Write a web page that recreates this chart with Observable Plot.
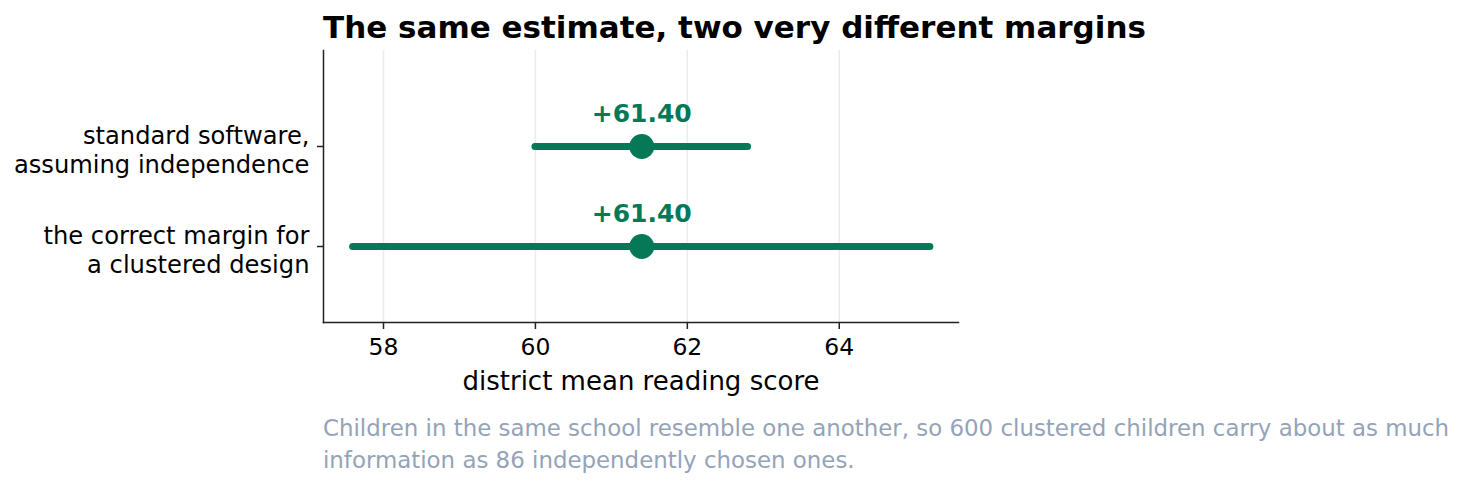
<!DOCTYPE html>
<html><head><meta charset="utf-8">
<script src="https://cdn.jsdelivr.net/npm/d3@7"></script>
<script src="https://cdn.jsdelivr.net/npm/@observablehq/plot@0.6"></script>
<style>
body{margin:0;background:#fff;font-family:"DejaVu Sans",sans-serif;}
#wrap{position:relative;width:1466px;height:495px;overflow:hidden;}
#title{position:absolute;left:323px;top:12.1px;font-size:31px;line-height:31px;font-weight:bold;color:#000;white-space:nowrap;}
#chart{position:absolute;left:0;top:40px;}
#caption{position:absolute;left:323px;top:411.5px;font-size:22.9px;line-height:32.6px;color:#94a3b8;white-space:nowrap;}
</style></head>
<body><div id="wrap"><div id="title"></div><div id="chart"></div><div id="caption"></div></div>
<script>
const titleText = "The same estimate, two very different margins";
const captionLines = ["Children in the same school resemble one another, so 600 clustered children carry about as much", "information as 86 independently chosen ones."];
const methods = ["standard", "clustered"];
const methodLabels = ["standard software,\nassuming independence", "the correct margin for\na clustered design"];
const estimates = [61.40, 61.40];
const lowers = [60.00, 57.60];
const uppers = [62.80, 65.20];
const xTicks = [58, 60, 62, 64];
const xDomain = [57.21, 65.57];
const xLabel = "district mean reading score";

const rows = methods.map((m, i) => ({method: m, estimate: estimates[i], lower: lowers[i], upper: uppers[i]}));
const green = "#047857";
const axisColor = "#222";

document.getElementById("title").textContent = titleText;
const cap = document.getElementById("caption");
captionLines.forEach((t, i) => { if (i) cap.appendChild(document.createElement("br")); cap.appendChild(document.createTextNode(t)); });

const chart = Plot.plot({
  width: 1466, height: 360,
  marginLeft: 323, marginRight: 508, marginTop: 10, marginBottom: 78,
  style: {fontFamily: '"DejaVu Sans", sans-serif', background: "transparent", color: "#000"},
  x: {domain: xDomain, ticks: xTicks},
  y: {type: "point", domain: methods, padding: 0, insetTop: 96, insetBottom: 76},
  marks: [
    Plot.gridX(xTicks, {stroke: "#ebebeb", strokeOpacity: 1, strokeWidth: 1.5}),
    Plot.frame({anchor: "left", stroke: axisColor, strokeWidth: 1.5}),
    Plot.frame({anchor: "bottom", stroke: axisColor, strokeWidth: 1.5}),
    Plot.axisX(xTicks, {tickSize: 7, tickPadding: 9, fontSize: 23.5, label: null, stroke: axisColor, strokeWidth: 1.5, fill: "#000"}),
    Plot.axisY({tickSize: 6, fill: "none", label: null, stroke: axisColor, strokeWidth: 1.5}),
    Plot.axisY({tickSize: 0, tickPadding: 14, fontSize: 24.2, lineHeight: 1.17, dy: 3, fill: "#000", stroke: "none",
      tickFormat: d => methodLabels[methods.indexOf(d)], label: null}),
    Plot.text([xLabel], {frameAnchor: "bottom", dy: 67, fontSize: 26, fill: "#000"}),
    Plot.ruleY(rows, {y: "method", x1: "lower", x2: "upper", stroke: green, strokeWidth: 7, strokeLinecap: "round"}),
    Plot.dot(rows, {x: "estimate", y: "method", r: 12.5, fill: green}),
    Plot.text(rows, {x: "estimate", y: "method", text: d => "+" + d.estimate.toFixed(2), fill: green,
      fontSize: 25, fontWeight: "bold", dy: -32.3})
  ]
});
document.getElementById("chart").appendChild(chart);
</script>
</body></html>
